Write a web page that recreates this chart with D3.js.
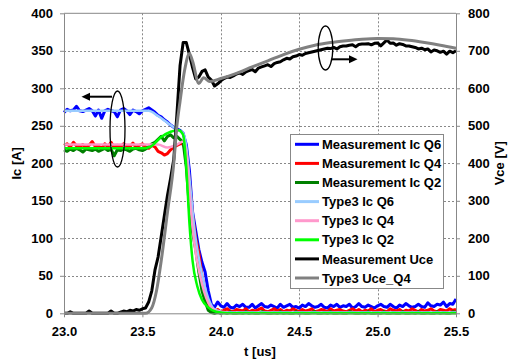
<!DOCTYPE html>
<html>
<head>
<meta charset="utf-8">
<script src="https://cdn.jsdelivr.net/npm/d3@7"></script>
<style>
  body { margin: 0; background: #fff; }
  text { font-family: "Liberation Sans", Arial, sans-serif; font-weight: bold; }
</style>
</head>
<body>
<script>
const width = 509;
const height = 361;

// measurement sample grid, 0.02 us steps from 23.00 to 25.50
const tMeas = d3.range(126).map(i => +(23 + i * 0.02).toFixed(2));

const ic6Meas = [
  268, 272, 270, 271, 276, 270, 269, 271, 273, 270,
  263, 271, 260, 270, 272, 270, 269, 262, 271, 273,
  270, 265, 271, 269, 266, 270, 272, 274, 271, 268,
  264, 262, 258, 255, 251, 248, 246, 244, 240, 225,
  190, 135, 110, 85, 68, 55, 30, 12, 8, 15,
  10, 8, 13, 8, 7, 11, 9, 12, 8, 8,
  12, 7, 10, 13, 9, 8, 11, 9, 7, 12,
  8, 10, 12, 8, 9, 7, 11, 9, 13, 10,
  8, 9, 12, 8, 7, 11, 9, 12, 8, 10,
  9, 12, 7, 9, 13, 9, 8, 11, 9, 7,
  10, 12, 9, 8, 12, 9, 7, 11, 9, 13,
  10, 8, 9, 12, 9, 8, 14, 10, 9, 12,
  11, 15, 9, 13, 12, 19
];
const ic4Meas = [
  224, 226, 222, 228, 223, 222, 225, 221, 224, 229,
  222, 223, 220, 226, 222, 228, 221, 224, 222, 226,
  223, 222, 227, 221, 224, 226, 222, 220, 224, 222,
  216, 214, 211, 213, 218, 222, 224, 226, 226, 215,
  175, 130, 100, 80, 50, 30, 10, 4, 3, 5,
  2, 4, 6, 3, 2, 5, 4, 3, 6, 2,
  4, 3, 5, 7, 3, 2, 4, 6, 3, 5,
  2, 4, 3, 6, 4, 2, 5, 3, 4, 6,
  2, 3, 5, 4, 2, 6, 3, 4, 5, 3,
  2, 4, 6, 3, 5, 2, 4, 3, 6, 2,
  4, 5, 3, 2, 6, 4, 3, 5, 2, 4,
  3, 6, 4, 2, 5, 3, 4, 6, 3, 2,
  5, 4, 3, 6, 4, 5
];
const ic2Meas = [
  218, 216, 219, 217, 220, 218, 215, 219, 218, 217,
  219, 216, 218, 220, 217, 219, 210, 218, 217, 219,
  218, 216, 219, 220, 218, 217, 219, 222, 226, 228,
  232, 236, 230, 236, 238, 234, 236, 232, 228, 195,
  140, 108, 85, 55, 30, 16, 4, 1, 0, 1,
  0, 1, 0, 2, 0, 0, 1, 0, 2, 0,
  1, 0, 0, 2, 1, 0, 0, 1, 0, 2,
  0, 1, 0, 0, 2, 0, 1, 0, 0, 1,
  2, 0, 0, 1, 0, 2, 0, 0, 1, 0,
  0, 2, 1, 0, 0, 1, 0, 2, 0, 0,
  1, 0, 2, 0, 0, 1, 0, 0, 2, 0,
  0, 1, 0, 2, 0, 0, 1, 0, 0, 2,
  0, 1, 0, 0, 2, 1
];
const uceMeas = [
  0, 0, 4, 0, 0, 0, 0, 0, 6, 0,
  0, 0, 0, 0, 0, 6, 0, 0, 3, 6,
  4, 8, 6, 10, 8, 12, 14, 30, 60, 115,
  150, 205, 260, 315, 360, 410, 530, 660, 722, 722,
  690, 655, 625, 630, 645, 649, 630, 622, 606, 612,
  620, 626, 630, 629, 633, 638, 641, 637, 644, 647,
  650, 644, 654, 657, 660, 663, 658, 666, 669, 671,
  676, 680, 678, 684, 686, 690, 688, 693, 695, 697,
  699, 701, 703, 705, 707, 706, 709, 705, 711, 713,
  713, 715, 716, 711, 717, 718, 718, 719, 716, 720,
  721, 713, 721, 729, 720, 721, 715, 719, 717, 713,
  713, 711, 709, 705, 707, 703, 705, 697, 702, 700,
  696, 699, 691, 699, 695, 700
];

// Type3 simulation curves (time, value)
const ic6Sim = [[23.0, 270], [23.54, 270], [23.6, 263], [23.66, 254], [23.72, 245], [23.76, 240], [23.78, 222],
  [23.8, 180], [23.83, 115], [23.87, 62], [23.92, 20], [23.97, 4], [24.05, 1], [25.5, 1]];
const ic4Sim = [[23.0, 225], [23.6, 225], [23.66, 221], [23.72, 225], [23.76, 229], [23.78, 214],
  [23.8, 160], [23.83, 95], [23.87, 48], [23.92, 14], [23.97, 3], [24.05, 0], [25.5, 0]];
const ic2Sim = [[23.0, 220], [23.5, 220], [23.55, 222], [23.62, 235], [23.68, 242], [23.73, 244], [23.76, 238],
  [23.78, 195], [23.8, 120], [23.82, 70], [23.85, 36], [23.88, 18], [23.92, 8], [23.97, 2], [24.05, 0], [25.5, 0]];
const uceSim = [[23.0, 0], [23.52, 0], [23.56, 15], [23.59, 60], [23.62, 140], [23.66, 270], [23.7, 400],
  [23.72, 500], [23.74, 565], [23.77, 650], [23.8, 693], [23.82, 672], [23.86, 613], [23.89, 628],
  [23.93, 618], [24.0, 626], [24.1, 640], [24.2, 657], [24.3, 673], [24.4, 690], [24.5, 704], [24.6, 715],
  [24.7, 722], [24.8, 727], [24.9, 731], [25.0, 733], [25.1, 732], [25.2, 728], [25.3, 722], [25.4, 715], [25.5, 707]];

const xTicks = [23.0, 23.5, 24.0, 24.5, 25.0, 25.5];
const icTicks = [0, 50, 100, 150, 200, 250, 300, 350, 400];
const vTicks = [0, 100, 200, 300, 400, 500, 600, 700, 800];

const series = [
  { name: 'Measurement Ic Q6', color: '#0000ff', w: 3, axis: 'ic', pts: tMeas.map((t, i) => [t, ic6Meas[i]]) },
  { name: 'Measurement Ic Q4', color: '#ff0000', w: 3, axis: 'ic', pts: tMeas.map((t, i) => [t, ic4Meas[i]]) },
  { name: 'Measurement Ic Q2', color: '#008000', w: 3, axis: 'ic', pts: tMeas.map((t, i) => [t, ic2Meas[i]]) },
  { name: 'Type3 Ic Q6', color: '#99ccff', w: 2.5, axis: 'ic', pts: ic6Sim, smooth: true },
  { name: 'Type3 Ic Q4', color: '#ff99cc', w: 2.5, axis: 'ic', pts: ic4Sim, smooth: true },
  { name: 'Type3 Ic Q2', color: '#00ff00', w: 2.5, axis: 'ic', pts: ic2Sim, smooth: true },
  { name: 'Measurement Uce', color: '#000000', w: 3, axis: 'v', pts: tMeas.map((t, i) => [t, uceMeas[i]]) },
  { name: 'Type3 Uce_Q4', color: '#808080', w: 3, axis: 'v', pts: uceSim, smooth: true }
];

const m = { left: 64, right: 456, top: 13.3, bottom: 313.3 };

const svg = d3.select('body').append('svg').attr('width', width).attr('height', height);

const x = d3.scaleLinear().domain([23, 25.5]).range([m.left, m.right]);
const yIc = d3.scaleLinear().domain([0, 400]).range([m.bottom, m.top]);
const yV = d3.scaleLinear().domain([0, 800]).range([m.bottom, m.top]);

// grid
const grid = svg.append('g').attr('stroke', '#888').attr('stroke-width', 1).attr('stroke-dasharray', '2,2');
grid.selectAll('.hg').data(icTicks.slice(1, -1)).enter().append('line')
  .attr('x1', m.left).attr('x2', m.right)
  .attr('y1', d => Math.round(yIc(d)) + 0.5).attr('y2', d => Math.round(yIc(d)) + 0.5);
grid.selectAll('.vg').data(xTicks.slice(1, -1)).enter().append('line')
  .attr('y1', m.top).attr('y2', m.bottom)
  .attr('x1', d => Math.round(x(d)) + 0.5).attr('x2', d => Math.round(x(d)) + 0.5);

// top border
svg.append('line').attr('x1', m.left).attr('x2', m.right).attr('y1', m.top).attr('y2', m.top)
  .attr('stroke', '#888').attr('stroke-width', 1);

// lines
const g = svg.append('g');
series.forEach(s => {
  const y = s.axis === 'ic' ? yIc : yV;
  const line = d3.line().x(d => x(d[0])).y(d => y(d[1]))
    .curve(s.smooth ? d3.curveMonotoneX : d3.curveLinear);
  g.append('path').datum(s.pts)
    .attr('d', line)
    .attr('fill', 'none')
    .attr('stroke', s.color)
    .attr('stroke-width', s.w)
    .attr('stroke-linejoin', 'round');
});

// axes
function styleAxis(sel) {
  sel.selectAll('.domain').attr('stroke', '#888');
  sel.selectAll('.tick line').attr('stroke', '#888');
  sel.selectAll('.tick text').attr('fill', '#000').style('font-size', '13px');
}
svg.append('g').attr('transform', `translate(0,${m.bottom})`)
  .call(d3.axisBottom(x).tickValues(xTicks).tickFormat(d3.format('.1f')).tickSize(4).tickPadding(9).tickSizeOuter(0))
  .call(styleAxis);
svg.append('g').attr('transform', `translate(${m.left},0)`)
  .call(d3.axisLeft(yIc).tickValues(icTicks).tickSize(4).tickPadding(7).tickSizeOuter(0))
  .call(styleAxis);
svg.append('g').attr('transform', `translate(${m.right},0)`)
  .call(d3.axisRight(yV).tickValues(vTicks).tickSize(4).tickPadding(8).tickSizeOuter(0))
  .call(styleAxis);

// axis titles
svg.append('text').attr('x', 260).attr('y', 356).attr('text-anchor', 'middle')
  .style('font-size', '13px').text('t [us]');
svg.append('text').attr('transform', `translate(21,${(m.top + m.bottom) / 2}) rotate(-90)`)
  .attr('text-anchor', 'middle').style('font-size', '13px').text('Ic [A]');
svg.append('text').attr('transform', `translate(504,${(m.top + m.bottom) / 2}) rotate(-90)`)
  .attr('text-anchor', 'middle').style('font-size', '13px').text('Vce [V]');

// annotations: ellipses and arrows
const ann = svg.append('g').attr('stroke', '#000').attr('fill', 'none').attr('stroke-width', 1.3);
ann.append('ellipse').attr('cx', 117.5).attr('cy', 129).attr('rx', 7.5).attr('ry', 38);
ann.append('ellipse').attr('cx', 325.5).attr('cy', 48).attr('rx', 7.3).attr('ry', 22);
ann.append('line').attr('x1', 112).attr('x2', 88).attr('y1', 96.7).attr('y2', 96.7).attr('stroke-width', 2);
ann.append('line').attr('x1', 332).attr('x2', 350).attr('y1', 59.3).attr('y2', 59.3).attr('stroke-width', 2);
svg.append('path').attr('d', 'M81.5,96.7 L90,92.7 L90,100.7 Z').attr('fill', '#000');
svg.append('path').attr('d', 'M357.5,59.3 L349,55.3 L349,63.3 Z').attr('fill', '#000');

// legend
const lg = svg.append('g');
lg.append('rect').attr('x', 290.5).attr('y', 134.5).attr('width', 153).attr('height', 154)
  .attr('fill', '#fff').attr('stroke', '#888').attr('stroke-width', 1);
const items = lg.selectAll('.item').data(series).enter().append('g')
  .attr('transform', (d, i) => `translate(0,${144.3 + i * 19.1})`);
items.append('line').attr('x1', 295).attr('x2', 319).attr('y1', 0).attr('y2', 0)
  .attr('stroke', d => d.color).attr('stroke-width', 3);
items.append('text').attr('x', 322).attr('y', 0).attr('dy', '0.36em')
  .style('font-size', '13px').attr('fill', '#000').text(d => d.name);
</script>
</body>
</html>
